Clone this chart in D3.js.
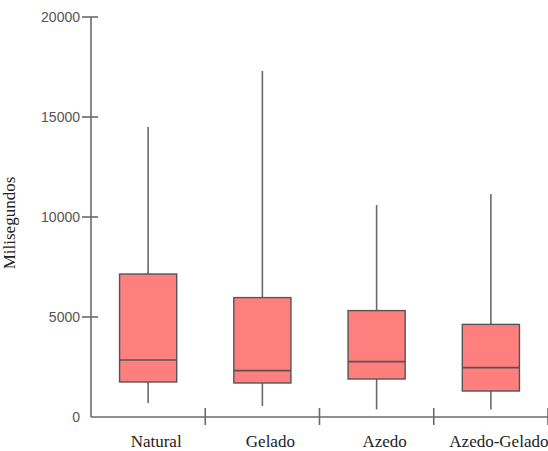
<!DOCTYPE html>
<html><head><meta charset="utf-8">
<script src="https://cdn.jsdelivr.net/npm/d3@7"></script>
<style>body{margin:0;background:#fff}</style>
</head><body>
<svg id="c" width="548" height="451"></svg>
<script>
const categories = ["Natural", "Gelado", "Azedo", "Azedo-Gelado"];
const whiskerLow  = [700, 550, 380, 380];
const q1          = [1750, 1700, 1900, 1300];
const median      = [2850, 2320, 2770, 2470];
const q3          = [7150, 5970, 5320, 4630];
const whiskerHigh = [14500, 17300, 10600, 11150];
const yTicks = [0, 5000, 10000, 15000, 20000];
const yTitle = "Milisegundos";

const svg = d3.select("#c");
const x = d3.scaleBand().domain(categories).range([91, 548]);
const y = d3.scaleLinear().domain([0, 20000]).range([417, 17]);
const axisColor = "#6a6a6a";
const data = categories.map((c, i) => ({c, lo: whiskerLow[i], q1: q1[i], med: median[i], q3: q3[i], hi: whiskerHigh[i]}));

// y axis
svg.append("line").attr("x1", 91).attr("x2", 91).attr("y1", y(20000)).attr("y2", y(0))
  .attr("stroke", axisColor).attr("stroke-width", 1.6);
const yt = svg.append("g");
yt.selectAll("line").data(yTicks.filter(d => d > 0)).join("line")
  .attr("x1", 82).attr("x2", 98).attr("y1", d => y(d)).attr("y2", d => y(d))
  .attr("stroke", axisColor).attr("stroke-width", 1.6);
yt.selectAll("text").data(yTicks).join("text")
  .attr("x", 80).attr("y", d => y(d)).attr("dy", "0.36em").attr("text-anchor", "end")
  .attr("font-family", "Liberation Sans, Arial, sans-serif").attr("font-size", 14)
  .attr("fill", "#555").text(d => d);

// x axis
svg.append("line").attr("x1", 91).attr("x2", 548).attr("y1", y(0)).attr("y2", y(0))
  .attr("stroke", axisColor).attr("stroke-width", 1.6);
svg.selectAll(".sep").data(categories).join("line").attr("class", "sep")
  .attr("x1", d => x(d) + x.bandwidth()).attr("x2", d => x(d) + x.bandwidth())
  .attr("y1", 408).attr("y2", 425).attr("stroke", axisColor).attr("stroke-width", 1.6);
svg.selectAll(".cl").data(categories).join("text").attr("class", "cl")
  .attr("x", d => x(d) + x.bandwidth() / 2 + 8).attr("y", 447).attr("text-anchor", "middle")
  .attr("font-family", "Liberation Serif, Times New Roman, serif").attr("font-size", 17)
  .attr("fill", "#222").text(d => d);

// y title
svg.append("text").attr("transform", "translate(15,223) rotate(-90)")
  .attr("text-anchor", "middle").attr("font-family", "Liberation Serif, Times New Roman, serif")
  .attr("font-size", 17).attr("fill", "#222").text(yTitle);

// boxes
const bw = x.bandwidth() / 2;
const g = svg.selectAll(".box").data(data).join("g").attr("class", "box");
g.append("line").attr("x1", d => x(d.c) + x.bandwidth() / 2).attr("x2", d => x(d.c) + x.bandwidth() / 2)
  .attr("y1", d => y(d.hi)).attr("y2", d => y(d.lo)).attr("stroke", axisColor).attr("stroke-width", 1.6);
g.append("rect").attr("x", d => x(d.c) + x.bandwidth() / 2 - bw / 2).attr("width", bw)
  .attr("y", d => y(d.q3)).attr("height", d => y(d.q1) - y(d.q3))
  .attr("fill", "#ff7f7f").attr("stroke", "#555").attr("stroke-width", 1.4);
g.append("line").attr("x1", d => x(d.c) + x.bandwidth() / 2 - bw / 2).attr("x2", d => x(d.c) + x.bandwidth() / 2 + bw / 2)
  .attr("y1", d => y(d.med)).attr("y2", d => y(d.med)).attr("stroke", "#555").attr("stroke-width", 1.6);
</script>
</body></html>
